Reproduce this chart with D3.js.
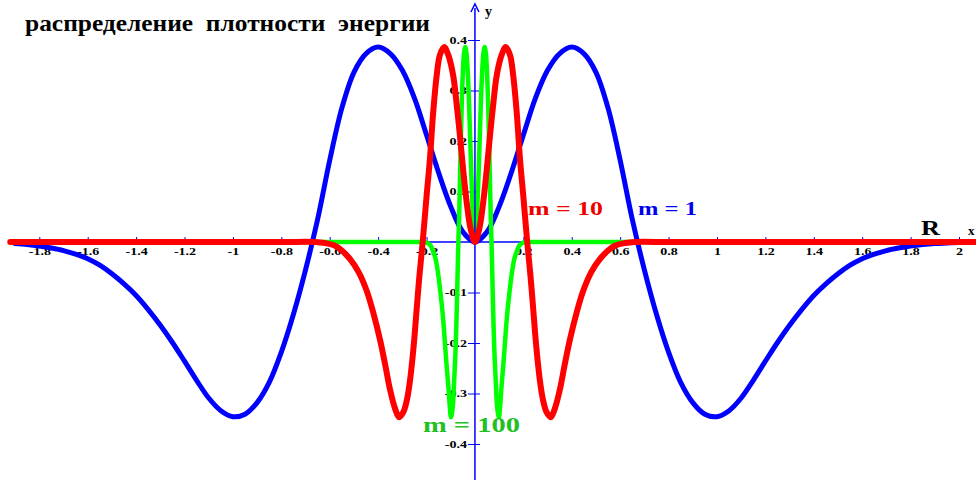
<!DOCTYPE html>
<html><head><meta charset="utf-8">
<script src="https://cdn.jsdelivr.net/npm/d3@7"></script>
<style>html,body{margin:0;padding:0;background:#fff;} svg{display:block;}</style>
</head><body>
<svg id="chart" width="976" height="480"></svg>
<script>
const titleText = "распределение  плотности  энергии";
const xTicks = [-1.8,-1.6,-1.4,-1.2,-1,-0.8,-0.6,-0.4,-0.2,0.2,0.4,0.6,0.8,1,1.2,1.4,1.6,1.8,2];
const yTicks = [-0.4,-0.3,-0.2,-0.1,0.1,0.2,0.3,0.4];
const seriesLabels = ["m = 1","m = 10","m = 100"];

const blueData = [[-2.07,-0.001],[-2.0,-0.001],[-1.95,-0.002],[-1.9,-0.003],[-1.85,-0.005],[-1.8,-0.008],[-1.75,-0.012],[-1.7,-0.017],[-1.65,-0.024],[-1.6,-0.033],[-1.55,-0.046],[-1.5,-0.063],[-1.45,-0.083],[-1.4,-0.106],[-1.35,-0.134],[-1.3,-0.165],[-1.25,-0.199],[-1.2,-0.236],[-1.15,-0.274],[-1.1,-0.309],[-1.05,-0.334],[-1.0,-0.346],[-0.95,-0.341],[-0.9,-0.318],[-0.85,-0.278],[-0.8,-0.218],[-0.75,-0.143],[-0.7,-0.055],[-0.65,0.045],[-0.6,0.162],[-0.55,0.265],[-0.5,0.336],[-0.45,0.373],[-0.4,0.386],[-0.35,0.373],[-0.3,0.34],[-0.25,0.285],[-0.2,0.212],[-0.15,0.137],[-0.1,0.07],[-0.05,0.02],[0,0],
[0.05,0.02],[0.1,0.07],[0.15,0.137],[0.2,0.212],[0.25,0.285],[0.3,0.34],[0.35,0.373],[0.4,0.386],[0.45,0.373],[0.5,0.336],[0.55,0.265],[0.6,0.162],[0.65,0.045],[0.7,-0.055],[0.75,-0.143],[0.8,-0.218],[0.85,-0.278],[0.9,-0.318],[0.95,-0.341],[1.0,-0.346],[1.05,-0.334],[1.1,-0.309],[1.15,-0.274],[1.2,-0.236],[1.25,-0.199],[1.3,-0.165],[1.35,-0.134],[1.4,-0.106],[1.45,-0.083],[1.5,-0.063],[1.55,-0.046],[1.6,-0.033],[1.65,-0.024],[1.7,-0.017],[1.75,-0.012],[1.8,-0.008],[1.85,-0.005],[1.9,-0.003],[1.95,-0.002],[2.0,-0.001],[2.07,-0.001]];

const redData = [[-1.92,0],[-1.3,0],[-0.8,0],[-0.66,0],[-0.62,-0.002],[-0.58,-0.007],[-0.55,-0.017],[-0.516,-0.034],[-0.48,-0.06],[-0.447,-0.097],[-0.42,-0.14],[-0.392,-0.194],[-0.37,-0.245],[-0.351,-0.292],[-0.33,-0.33],[-0.313,-0.347],[-0.295,-0.336],[-0.28,-0.31],[-0.268,-0.273],[-0.253,-0.205],[-0.24,-0.128],[-0.23,-0.07],[-0.216,0],[-0.2,0.09],[-0.186,0.165],[-0.172,0.26],[-0.158,0.33],[-0.145,0.37],[-0.127,0.386],[-0.11,0.37],[-0.09,0.33],[-0.075,0.27],[-0.062,0.21],[-0.048,0.14],[-0.034,0.078],[-0.017,0.024],[0,0],
[0.017,0.024],[0.034,0.078],[0.048,0.14],[0.062,0.21],[0.075,0.27],[0.09,0.33],[0.11,0.37],[0.127,0.386],[0.145,0.37],[0.158,0.33],[0.172,0.26],[0.186,0.165],[0.2,0.09],[0.216,0],[0.23,-0.07],[0.24,-0.128],[0.253,-0.205],[0.268,-0.273],[0.28,-0.31],[0.295,-0.336],[0.313,-0.347],[0.33,-0.33],[0.351,-0.292],[0.37,-0.245],[0.392,-0.194],[0.42,-0.14],[0.447,-0.097],[0.48,-0.06],[0.516,-0.034],[0.55,-0.017],[0.58,-0.007],[0.62,-0.002],[0.66,0],[0.8,0],[1.3,0],[2.07,0]];

const greenData = [[-1.92,0],[-1.0,0],[-0.4,0],[-0.25,0],[-0.21,0],[-0.196,-0.002],[-0.183,-0.007],[-0.174,-0.017],[-0.163,-0.033],[-0.153,-0.06],[-0.145,-0.09],[-0.138,-0.12],[-0.131,-0.155],[-0.124,-0.2],[-0.117,-0.245],[-0.11,-0.285],[-0.104,-0.325],[-0.099,-0.347],[-0.094,-0.336],[-0.09,-0.316],[-0.087,-0.286],[-0.08,-0.213],[-0.075,-0.13],[-0.072,-0.07],[-0.0685,0],[-0.065,0.055],[-0.06,0.165],[-0.055,0.265],[-0.05,0.335],[-0.045,0.374],[-0.04,0.386],[-0.035,0.373],[-0.03,0.338],[-0.025,0.283],[-0.02,0.209],[-0.015,0.135],[-0.01,0.07],[-0.005,0.02],[0,0],
[0.005,0.02],[0.01,0.07],[0.015,0.135],[0.02,0.209],[0.025,0.283],[0.03,0.338],[0.035,0.373],[0.04,0.386],[0.045,0.374],[0.05,0.335],[0.055,0.265],[0.06,0.165],[0.065,0.055],[0.0685,0],[0.072,-0.07],[0.075,-0.13],[0.08,-0.213],[0.087,-0.286],[0.09,-0.316],[0.094,-0.336],[0.099,-0.347],[0.104,-0.325],[0.11,-0.285],[0.117,-0.245],[0.124,-0.2],[0.131,-0.155],[0.138,-0.12],[0.145,-0.09],[0.153,-0.06],[0.163,-0.033],[0.174,-0.017],[0.183,-0.007],[0.196,-0.002],[0.21,0],[0.25,0],[0.4,0],[1.0,0],[2.07,0]];

const svg = d3.select("#chart");
const x = d3.scaleLinear().domain([-1.8, 2]).range([39.3, 959]);
const y = d3.scaleLinear().domain([-0.4, 0.4]).range([444, 40]);
const AX = "#0000ff";
const serif = "'Liberation Serif','DejaVu Serif',serif";

function stretch(sel, f) {
  sel.each(function() {
    const w = this.getComputedTextLength();
    d3.select(this).attr("textLength", w * f).attr("lengthAdjust", "spacingAndGlyphs");
  });
}

// x axis line
svg.append("line").attr("x1", x(-1.92)).attr("x2", 976).attr("y1", y(0)).attr("y2", y(0))
  .attr("stroke", AX).attr("stroke-width", 1.5);

// x axis ticks & labels
const xAxis = d3.axisBottom(x).tickValues(xTicks).tickSizeInner(-5).tickSizeOuter(0).tickPadding(6)
  .tickFormat(d => String(d));
const gx = svg.append("g").attr("transform", `translate(0,${y(0)})`).call(xAxis);
gx.select(".domain").remove();
gx.selectAll(".tick line").attr("stroke", AX).attr("stroke-width", 1);
gx.selectAll(".tick text").attr("fill", "#000").attr("font-family", serif)
  .attr("font-weight", "bold").attr("font-size", 10).call(stretch, 1.4);

// y axis ticks & labels
const yAxis = d3.axisLeft(y).tickValues(yTicks).tickSizeInner(7).tickSizeOuter(0).tickPadding(1)
  .tickFormat(d => String(d));
const gy = svg.append("g").attr("transform", `translate(${x(0)},0)`).call(yAxis);
gy.select(".domain").remove();
gy.selectAll(".tick line").attr("x1", 5).attr("x2", -7).attr("stroke", AX).attr("stroke-width", 1);
gy.selectAll(".tick text").attr("fill", "#000").attr("font-family", serif)
  .attr("font-weight", "bold").attr("font-size", 10).call(stretch, 1.4);

const line = d3.line().x(d => x(d[0])).y(d => y(d[1])).curve(d3.curveCatmullRom.alpha(0.5));

svg.append("path").datum(blueData.filter(d => d[0] >= -1.93)).attr("d", line).attr("fill", "none")
  .attr("stroke", "#0000ff").attr("stroke-width", 5).attr("stroke-linecap", "round").attr("stroke-linejoin", "round");
svg.append("path").datum(greenData).attr("d", line).attr("fill", "none")
  .attr("stroke", "#00ff00").attr("stroke-width", 4.5).attr("stroke-linecap", "round").attr("stroke-linejoin", "round");

// y axis line with arrow
svg.append("line").attr("x1", x(0)).attr("x2", x(0)).attr("y1", 480).attr("y2", 8)
  .attr("stroke", AX).attr("stroke-width", 1.5);
svg.append("path").attr("d", `M${x(0)-4},${12} L${x(0)},${4} L${x(0)+4},${12}`)
  .attr("fill", "none").attr("stroke", AX).attr("stroke-width", 1.5);

svg.append("path").datum(redData).attr("d", line).attr("fill", "none")
  .attr("stroke", "#ff0000").attr("stroke-width", 6).attr("stroke-linecap", "round").attr("stroke-linejoin", "round");

// texts
svg.append("text").attr("x", 25).attr("y", 31).text(titleText).style("white-space", "pre")
  .attr("font-family", serif).attr("font-weight", "bold").attr("font-size", 23)
  .attr("textLength", 405).attr("lengthAdjust", "spacingAndGlyphs").attr("fill", "#000");

svg.append("text").attr("x", 485).attr("y", 16).text("y")
  .attr("font-family", serif).attr("font-weight", "bold").attr("font-size", 14).attr("fill", "#000");
svg.append("text").attr("x", 968).attr("y", 235).text("x")
  .attr("font-family", serif).attr("font-weight", "bold").attr("font-size", 13).attr("fill", "#000");
svg.append("text").attr("x", 921).attr("y", 235).text("R")
  .attr("font-family", serif).attr("font-weight", "bold").attr("font-size", 20)
  .attr("textLength", 19).attr("lengthAdjust", "spacingAndGlyphs").attr("fill", "#000");

svg.append("text").attr("x", 638).attr("y", 215).text(seriesLabels[0])
  .attr("font-family", serif).attr("font-weight", "bold").attr("font-size", 19)
  .attr("textLength", 59).attr("lengthAdjust", "spacingAndGlyphs").attr("fill", "#0000ee");
svg.append("text").attr("x", 528).attr("y", 215).text(seriesLabels[1])
  .attr("font-family", serif).attr("font-weight", "bold").attr("font-size", 19)
  .attr("textLength", 75).attr("lengthAdjust", "spacingAndGlyphs").attr("fill", "#ee0000");
svg.append("text").attr("x", 423).attr("y", 432).text(seriesLabels[2])
  .attr("font-family", serif).attr("font-weight", "bold").attr("font-size", 20)
  .attr("textLength", 97).attr("lengthAdjust", "spacingAndGlyphs").attr("fill", "#22c022");
</script>
</body></html>
